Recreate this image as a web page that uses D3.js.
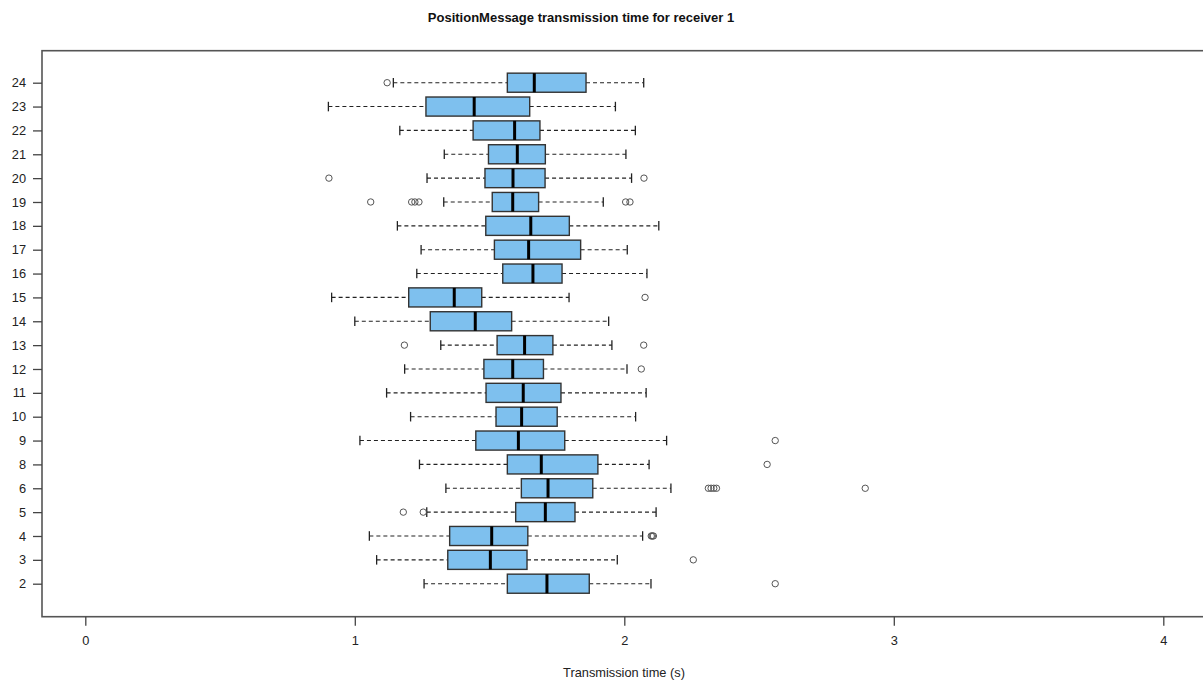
<!DOCTYPE html>
<html>
<head>
<meta charset="utf-8">
<script src="https://cdn.jsdelivr.net/npm/d3@7"></script>
<style>
  body { margin: 0; background: white; }
  svg { display: block; }
</style>
</head>
<body>
<div id="container"></div>
<script>
// receivers, bottom to top
let receivers = ['2','3','4','5','6','8','9','10','11','12','13','14','15','16','17','18','19','20','21','22','23','24'];
let whiskerLow  = [1.257,1.081,1.054,1.267,1.338,1.240,1.019,1.207,1.118,1.185,1.319,1.000,0.914,1.230,1.246,1.158,1.330,1.268,1.332,1.167,0.902,1.143];
let q1          = [1.566,1.345,1.352,1.597,1.618,1.566,1.449,1.524,1.487,1.479,1.528,1.280,1.200,1.549,1.518,1.486,1.510,1.483,1.496,1.439,1.264,1.566];
let medians     = [1.713,1.503,1.508,1.707,1.717,1.692,1.607,1.619,1.625,1.586,1.630,1.447,1.369,1.661,1.645,1.653,1.586,1.587,1.603,1.593,1.443,1.666];
let q3          = [1.870,1.639,1.642,1.817,1.883,1.902,1.779,1.751,1.765,1.700,1.735,1.582,1.471,1.769,1.838,1.796,1.682,1.706,1.707,1.687,1.649,1.858];
let whiskerHigh = [2.099,1.974,2.068,2.118,2.173,2.092,2.157,2.042,2.081,2.010,1.954,1.942,1.795,2.084,2.011,2.128,1.922,2.027,2.006,2.041,1.967,2.072];
let outliers = [
  [2.560],
  [2.256],
  [2.100,2.104,2.108],
  [1.180,1.254],
  [2.312,2.322,2.332,2.342,2.894],
  [2.530],
  [2.560],
  [],
  [],
  [2.063],
  [1.184,2.072],
  [],
  [2.077],
  [],
  [],
  [],
  [1.059,1.211,1.223,1.238,2.005,2.021],
  [0.904,2.073],
  [],
  [],
  [],
  [1.120]
];
let xTicks = [0,1,2,3,4];

let W = 1203, H = 680;
let padL = 42, padT = 50.7, padB = 616.7, padR = 1206;

let svg = d3.select('#container')
  .append('svg')
    .attr('width', W)
    .attr('height', H)
    .style('font-family', 'Liberation Sans, Arial, sans-serif');

let x = d3.scaleLinear().domain([0, 4]).range([85.3, 1163.3]);
let y = d3.scaleLinear().domain([0, receivers.length - 1]).range([583.7, 82.7]);
let step = y(0) - y(1);
let bh = step * 0.8;

let rows = receivers.map((r, i) => ({
  r: r, i: i,
  lo: whiskerLow[i], q1: q1[i], med: medians[i], q3: q3[i], hi: whiskerHigh[i],
  out: outliers[i]
}));

// title
svg.append('text')
  .attr('x', 581)
  .attr('y', 22)
  .attr('text-anchor', 'middle')
  .attr('font-size', 13)
  .attr('font-weight', 'bold')
  .attr('fill', '#111')
  .text('PositionMessage transmission time for receiver 1');

let g = svg.append('g');

let box = g.selectAll('.box').data(rows).enter().append('g').attr('class', 'box');

// whiskers (dashed)
box.append('line')
  .attr('x1', d => x(d.lo)).attr('x2', d => x(d.q1))
  .attr('y1', d => y(d.i)).attr('y2', d => y(d.i))
  .attr('stroke', '#222').attr('stroke-width', 1.1)
  .attr('stroke-dasharray', '4,3');
box.append('line')
  .attr('x1', d => x(d.q3)).attr('x2', d => x(d.hi))
  .attr('y1', d => y(d.i)).attr('y2', d => y(d.i))
  .attr('stroke', '#222').attr('stroke-width', 1.1)
  .attr('stroke-dasharray', '4,3');
// staples
box.append('line')
  .attr('x1', d => x(d.lo)).attr('x2', d => x(d.lo))
  .attr('y1', d => y(d.i) - bh / 4).attr('y2', d => y(d.i) + bh / 4)
  .attr('stroke', '#222').attr('stroke-width', 1.3);
box.append('line')
  .attr('x1', d => x(d.hi)).attr('x2', d => x(d.hi))
  .attr('y1', d => y(d.i) - bh / 4).attr('y2', d => y(d.i) + bh / 4)
  .attr('stroke', '#222').attr('stroke-width', 1.3);
// boxes
box.append('rect')
  .attr('x', d => x(d.q1))
  .attr('y', d => y(d.i) - bh / 2)
  .attr('width', d => x(d.q3) - x(d.q1))
  .attr('height', bh)
  .attr('fill', '#7EC0EE')
  .attr('stroke', '#333')
  .attr('stroke-width', 1.4);
// medians
box.append('line')
  .attr('x1', d => x(d.med)).attr('x2', d => x(d.med))
  .attr('y1', d => y(d.i) - bh / 2).attr('y2', d => y(d.i) + bh / 2)
  .attr('stroke', '#000').attr('stroke-width', 3);
// outliers
box.selectAll('circle')
  .data(d => d.out.map(v => ({v: v, i: d.i})))
  .enter().append('circle')
    .attr('cx', d => x(d.v))
    .attr('cy', d => y(d.i))
    .attr('r', 3.2)
    .attr('fill', 'none')
    .attr('stroke', '#555')
    .attr('stroke-width', 1);

// frame
svg.append('rect')
  .attr('x', padL).attr('y', padT)
  .attr('width', padR - padL).attr('height', padB - padT)
  .attr('fill', 'none')
  .attr('stroke', '#555')
  .attr('stroke-width', 1.6);

// y axis
let yAxis = d3.axisLeft(y)
  .tickValues(d3.range(receivers.length))
  .tickFormat(i => receivers[i])
  .tickSize(9)
  .tickPadding(7);
let yg = svg.append('g')
  .attr('transform', 'translate(' + padL + ',0)')
  .call(yAxis);
yg.select('.domain').remove();
yg.selectAll('line').attr('stroke', '#444').attr('stroke-width', 1.3);
yg.selectAll('text').attr('font-size', 12.8).attr('fill', '#222')
  .style('font-family', 'Liberation Sans, Arial, sans-serif');

// x axis
let xAxis = d3.axisBottom(x)
  .tickValues(xTicks)
  .tickFormat(d3.format('d'))
  .tickSize(9)
  .tickPadding(10);
let xg = svg.append('g')
  .attr('transform', 'translate(0,' + padB + ')')
  .call(xAxis);
xg.select('.domain').remove();
xg.selectAll('line').attr('stroke', '#444').attr('stroke-width', 1.3);
xg.selectAll('text').attr('font-size', 12.8).attr('fill', '#222')
  .style('font-family', 'Liberation Sans, Arial, sans-serif');

svg.append('text')
  .attr('x', 624)
  .attr('y', 677)
  .attr('text-anchor', 'middle')
  .attr('font-size', 12.8)
  .attr('fill', '#222')
  .text('Transmission time (s)');
</script>
</body>
</html>
